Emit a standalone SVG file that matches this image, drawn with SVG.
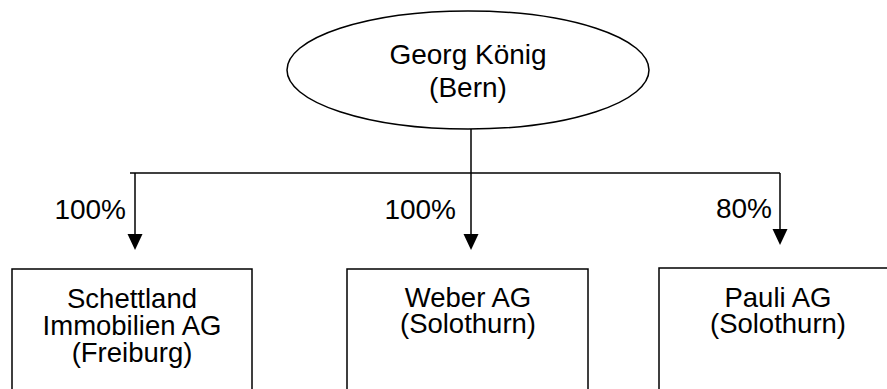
<svg xmlns="http://www.w3.org/2000/svg" width="887" height="389" viewBox="0 0 887 389">
<defs>
<style>
.shape{fill:#fff;stroke:#000;stroke-width:1.5}
.line{fill:none;stroke:#000;stroke-width:1.5}
text{font-family:"Liberation Sans",Arial,sans-serif;font-size:28px;fill:#000}
.b{font-size:27.5px}
.c{text-anchor:middle}
.e{text-anchor:end}
</style>
</defs>
<g id="connectors">
<line class="line" x1="471" y1="129" x2="471" y2="173"/>
<line class="line" x1="130" y1="173" x2="780" y2="173"/>
<line class="line" x1="135" y1="173" x2="135" y2="234"/>
<polygon points="127.5,234 142.5,234 135,250" fill="#000"/>
<line class="line" x1="471" y1="173" x2="471" y2="234"/>
<polygon points="463.5,234 478.5,234 471,250" fill="#000"/>
<line class="line" x1="780" y1="173" x2="780" y2="229"/>
<polygon points="772.5,229 787.5,229 780,245" fill="#000"/>
<text class="e" x="126" y="219">100%</text>
<text class="e" x="456" y="219">100%</text>
<text class="e" x="772" y="218">80%</text>
</g>
<g id="georg">
<ellipse class="shape" cx="468" cy="70" rx="181" ry="59"/>
<text class="c" x="468" y="64">Georg König</text>
<text class="c" x="468" y="97">(Bern)</text>
</g>
<g id="schettland">
<rect class="shape" x="12" y="269" width="240" height="130"/>
<text class="c b" x="132" y="308">Schettland</text>
<text class="c b" x="132" y="335">Immobilien AG</text>
<text class="c b" x="132" y="362">(Freiburg)</text>
</g>
<g id="weber">
<rect class="shape" x="347" y="269" width="241" height="130"/>
<text class="c b" x="468" y="307">Weber AG</text>
<text class="c b" x="468" y="333">(Solothurn)</text>
</g>
<g id="pauli">
<rect class="shape" x="659" y="268" width="240" height="130"/>
<text class="c b" x="778" y="307">Pauli AG</text>
<text class="c b" x="778" y="333">(Solothurn)</text>
</g>
</svg>
